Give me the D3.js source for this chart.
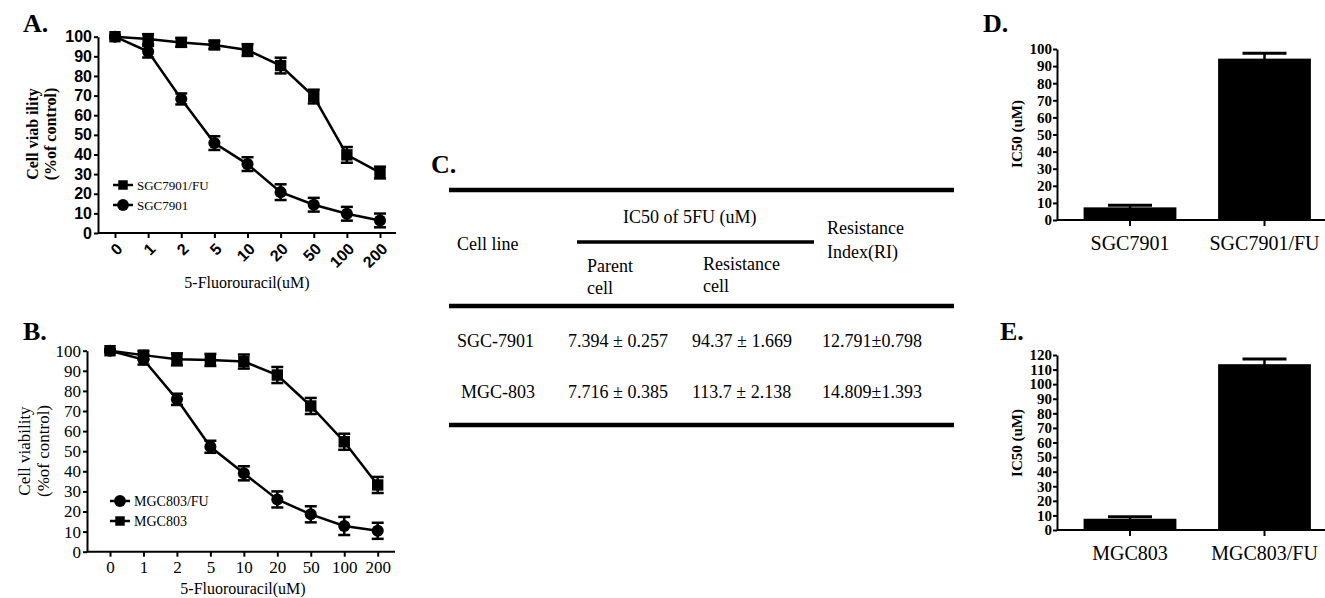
<!DOCTYPE html>
<html>
<head>
<meta charset="utf-8">
<script src="https://cdn.jsdelivr.net/npm/d3@7"></script>
<style>
  body { margin: 0; background: #fff; }
  svg { display: block; }
</style>
</head>
<body>
<div id="fig"></div>
<script>
// ---- data ----
var doses = ["0", "1", "2", "5", "10", "20", "50", "100", "200"];
var viabTicks = [0, 10, 20, 30, 40, 50, 60, 70, 80, 90, 100];

// panel A
var sgcFU    = [100, 98.8, 97.1, 95.8, 93.2, 85.3, 69.5, 39.8, 30.8];
var sgcFUErr = [0.6, 2.5, 2.2, 2.0, 3.0, 4.0, 3.5, 4.0, 3.0];
var sgc      = [100, 92.4, 68.3, 45.8, 35.1, 20.8, 14.4, 9.8, 6.4];
var sgcErr   = [0.6, 3.0, 2.8, 3.5, 3.5, 4.0, 3.5, 3.5, 3.5];

// panel B
var mgc      = [100, 97.8, 95.7, 95.4, 94.6, 87.9, 72.5, 54.7, 33.2];
var mgcErr   = [0.6, 2.0, 3.0, 3.0, 3.5, 4.0, 4.0, 4.0, 4.0];
var mgcFU    = [100, 95.6, 75.8, 52.2, 39.0, 26.0, 18.6, 12.8, 10.4];
var mgcFUErr = [0.6, 2.5, 2.8, 3.0, 3.5, 4.0, 4.0, 4.5, 4.0];

// panel C (table)
var cellLines   = ["SGC-7901", "MGC-803"];
var parentIC50  = ["7.394 \u00b1 0.257", "7.716 \u00b1 0.385"];
var resistIC50  = ["94.37 \u00b1 1.669", "113.7 \u00b1 2.138"];
var resistIndex = ["12.791\u00b10.798", "14.809\u00b11.393"];

// panels D and E
var catsD = ["SGC7901", "SGC7901/FU"];
var ic50D = [7.394, 94.37];
var errD  = [1.2, 3.2];
var ticksD = [0, 10, 20, 30, 40, 50, 60, 70, 80, 90, 100];

var catsE = ["MGC803", "MGC803/FU"];
var ic50E = [7.716, 113.7];
var errE  = [1.3, 3.5];
var ticksE = [0, 10, 20, 30, 40, 50, 60, 70, 80, 90, 100, 110, 120];

var serif = "'Liberation Serif', 'Times New Roman', serif";
var sans = "'Liberation Sans', Arial, sans-serif";

var svg = d3.select("#fig").append("svg")
  .attr("width", 1325)
  .attr("height", 598);

function panelLabel(txt, x, y) {
  svg.append("text")
    .attr("x", x).attr("y", y)
    .style("font-family", serif)
    .style("font-weight", "bold")
    .style("font-size", "26px")
    .text(txt);
}

// ---- line panels ----
function drawLinePanel(cfg) {
  var g = svg.append("g");

  var x = d3.scalePoint().domain(doses).range(cfg.xRange);
  var y = d3.scaleLinear().domain([0, 100]).range([cfg.y0, cfg.y100]);

  // y axis
  var yAxis = g.append("g")
    .attr("transform", "translate(" + cfg.axisX0 + ",0)")
    .call(d3.axisLeft(y).tickValues(viabTicks).tickSize(4).tickSizeOuter(0).tickPadding(2));
  yAxis.selectAll("path, line").attr("stroke", "#000").attr("stroke-width", 2);
  yAxis.selectAll("text")
    .style("font-family", cfg.tickFont)
    .style("font-weight", cfg.tickWeight)
    .style("font-size", cfg.tickSize)
    .attr("fill", "#000");

  // x axis
  var xAxis = g.append("g")
    .attr("transform", "translate(0," + cfg.y0 + ")")
    .call(d3.axisBottom(x).tickSize(5).tickSizeOuter(0));
  xAxis.select(".domain").remove();
  xAxis.selectAll("line").attr("stroke", "#000").attr("stroke-width", 2);
  xAxis.append("line")
    .attr("x1", cfg.axisX0).attr("x2", cfg.axisX1)
    .attr("stroke", "#000").attr("stroke-width", 2);
  var xt = xAxis.selectAll("text")
    .style("font-family", cfg.tickFont)
    .style("font-weight", cfg.tickWeight)
    .style("font-size", cfg.tickSize)
    .attr("fill", "#000");
  if (cfg.rotate) {
    xt.attr("y", 0).attr("dy", "0.35em")
      .attr("text-anchor", "end")
      .attr("transform", "translate(4,13) rotate(-45)");
  } else {
    xt.attr("y", 9);
  }

  // axis titles
  g.append("text")
    .attr("x", cfg.xTitleX).attr("y", cfg.xTitleY)
    .attr("text-anchor", "middle")
    .style("font-family", serif)
    .style("font-size", "16px")
    .text("5-Fluorouracil(uM)");

  cfg.yTitle.forEach(function(t, i) {
    g.append("text")
      .attr("transform", "translate(" + cfg.yTitleX[i] + "," + cfg.yTitleY + ") rotate(-90)")
      .attr("text-anchor", "middle")
      .attr("dy", "0.35em")
      .style("font-family", serif)
      .style("font-weight", cfg.yTitleWeight)
      .style("font-size", cfg.yTitleSize)
      .text(t);
  });

  var line = d3.line()
    .x(function(d, i) { return x(doses[i]); })
    .y(function(d) { return y(d); });

  cfg.series.forEach(function(s) {
    g.append("path")
      .datum(s.vals)
      .attr("d", line)
      .attr("fill", "none")
      .attr("stroke", "#000")
      .attr("stroke-width", 2.5);

    var pts = g.selectAll(null)
      .data(s.vals.map(function(v, i) { return { dose: doses[i], v: v, e: s.errs[i] }; }))
      .enter().append("g");

    pts.append("line")
      .attr("x1", function(d) { return x(d.dose); })
      .attr("x2", function(d) { return x(d.dose); })
      .attr("y1", function(d) { return y(d.v - d.e); })
      .attr("y2", function(d) { return y(d.v + d.e); })
      .attr("stroke", "#000").attr("stroke-width", 2.5);
    [-1, 1].forEach(function(sign) {
      pts.append("line")
        .attr("x1", function(d) { return x(d.dose) - 6; })
        .attr("x2", function(d) { return x(d.dose) + 6; })
        .attr("y1", function(d) { return y(d.v + sign * d.e); })
        .attr("y2", function(d) { return y(d.v + sign * d.e); })
        .attr("stroke", "#000").attr("stroke-width", 2.5);
    });

    pts.append("path")
      .attr("transform", function(d) { return "translate(" + x(d.dose) + "," + y(d.v) + ")"; })
      .attr("d", d3.symbol().type(s.symbol).size(s.symbol === d3.symbolSquare ? 130 : 115))
      .attr("fill", "#000");
  });

  // legend
  cfg.series.forEach(function(s, i) {
    var ly = cfg.legY + i * 20;
    g.append("line")
      .attr("x1", cfg.legX).attr("x2", cfg.legX + 20)
      .attr("y1", ly).attr("y2", ly)
      .attr("stroke", "#000").attr("stroke-width", 2.5);
    g.append("path")
      .attr("transform", "translate(" + (cfg.legX + 10) + "," + ly + ")")
      .attr("d", d3.symbol().type(s.symbol).size(s.symbol === d3.symbolSquare ? 90 : 110))
      .attr("fill", "#000");
    g.append("text")
      .attr("x", cfg.legX + 24).attr("y", ly)
      .attr("dy", "0.35em")
      .style("font-family", serif)
      .style("font-size", cfg.legSize)
      .text(s.name);
  });
}

panelLabel("A.", 23, 32);
drawLinePanel({
  xRange: [115, 380], axisX0: 98, axisX1: 396,
  y0: 233, y100: 36.7,
  tickFont: sans, tickWeight: "bold", tickSize: "16px", rotate: true,
  xTitleX: 247, xTitleY: 288,
  yTitle: ["Cell viab ility", "(%of control)"], yTitleX: [32, 50], yTitleY: 134,
  yTitleWeight: "bold", yTitleSize: "16px",
  legX: 113, legY: 185, legSize: "13px",
  series: [
    { name: "SGC7901/FU", vals: sgcFU, errs: sgcFUErr, symbol: d3.symbolSquare },
    { name: "SGC7901", vals: sgc, errs: sgcErr, symbol: d3.symbolCircle }
  ]
});

panelLabel("B.", 23, 340);
drawLinePanel({
  xRange: [110, 377.7], axisX0: 87, axisX1: 395,
  y0: 551.7, y100: 350.7,
  tickFont: serif, tickWeight: "normal", tickSize: "17px", rotate: false,
  xTitleX: 243, xTitleY: 594,
  yTitle: ["Cell viability", "(%of control)"], yTitleX: [24, 43], yTitleY: 451,
  yTitleWeight: "normal", yTitleSize: "17px",
  legX: 110, legY: 501, legSize: "14px",
  series: [
    { name: "MGC803/FU", vals: mgcFU, errs: mgcFUErr, symbol: d3.symbolCircle },
    { name: "MGC803", vals: mgc, errs: mgcErr, symbol: d3.symbolSquare }
  ]
});

// ---- table C ----
panelLabel("C.", 431, 173);
var tg = svg.append("g")
  .style("font-family", serif)
  .style("font-size", "18px");

function rule(x1, x2, y, w) {
  tg.append("line").attr("x1", x1).attr("x2", x2).attr("y1", y).attr("y2", y)
    .attr("stroke", "#000").attr("stroke-width", w);
}
function txt(s, x, y) {
  tg.append("text").attr("x", x).attr("y", y).text(s);
}
rule(449, 954, 190, 4.5);
rule(577, 814, 242, 3.5);
rule(449, 954, 306, 4.5);
rule(449, 954, 425, 4.5);

txt("Cell line", 457, 250);
txt("IC50 of 5FU (uM)", 623, 223);
txt("Parent", 587, 272);
txt("cell", 587, 294);
txt("Resistance", 703, 270);
txt("cell", 703, 292);
txt("Resistance", 827, 234);
txt("Index(RI)", 827, 258);

var rowY = [347, 398];
var rowX = [457, 461];
cellLines.forEach(function(c, i) {
  txt(c, rowX[i], rowY[i]);
  txt(parentIC50[i], 568, rowY[i]);
  txt(resistIC50[i], 692, rowY[i]);
  txt(resistIndex[i], 822, rowY[i]);
});

// ---- bar panels ----
function drawBarPanel(cfg) {
  var g = svg.append("g");
  var x = d3.scaleBand().domain(cfg.cats).range([1062.75, 1331.75])
    .paddingInner(0.31).paddingOuter(0.155);
  var y = d3.scaleLinear().domain([0, cfg.max]).range([cfg.y0, cfg.yTop]);

  g.selectAll(null).data(cfg.vals).enter().append("rect")
    .attr("x", function(d, i) { return x(cfg.cats[i]); })
    .attr("width", x.bandwidth())
    .attr("y", function(d) { return y(d); })
    .attr("height", function(d) { return cfg.y0 - y(d); })
    .attr("fill", "#000");

  g.selectAll(null).data(cfg.vals).enter().append("line")
    .attr("x1", function(d, i) { return x(cfg.cats[i]) + x.bandwidth() / 2; })
    .attr("x2", function(d, i) { return x(cfg.cats[i]) + x.bandwidth() / 2; })
    .attr("y1", function(d, i) { return y(d - cfg.errs[i]); })
    .attr("y2", function(d, i) { return y(d + cfg.errs[i]); })
    .attr("stroke", "#000").attr("stroke-width", 2.5);
  g.selectAll(null).data(cfg.vals).enter().append("line")
    .attr("x1", function(d, i) { return x(cfg.cats[i]) + x.bandwidth() / 2 - 22; })
    .attr("x2", function(d, i) { return x(cfg.cats[i]) + x.bandwidth() / 2 + 22; })
    .attr("y1", function(d, i) { return y(d + cfg.errs[i]); })
    .attr("y2", function(d, i) { return y(d + cfg.errs[i]); })
    .attr("stroke", "#000").attr("stroke-width", 3);

  var yAxis = g.append("g")
    .attr("transform", "translate(1057,0)")
    .call(d3.axisLeft(y).tickValues(cfg.ticks).tickSize(4).tickSizeOuter(0).tickPadding(1));
  yAxis.selectAll("path, line").attr("stroke", "#000").attr("stroke-width", 2);
  yAxis.selectAll("text")
    .style("font-family", serif)
    .style("font-weight", "bold")
    .style("font-size", "15px")
    .attr("fill", "#000");

  var xAxis = g.append("g")
    .attr("transform", "translate(0," + cfg.y0 + ")")
    .call(d3.axisBottom(x).tickSize(6).tickSizeOuter(0).tickPadding(10));
  xAxis.select(".domain").remove();
  xAxis.append("line").attr("x1", 1057).attr("x2", 1325)
    .attr("stroke", "#000").attr("stroke-width", 2);
  xAxis.selectAll("line").attr("stroke", "#000").attr("stroke-width", 2);
  xAxis.selectAll("text")
    .style("font-family", serif)
    .style("font-size", "20px")
    .attr("fill", "#000");

  g.append("text")
    .attr("transform", "translate(1017," + cfg.titleY + ") rotate(-90)")
    .attr("text-anchor", "middle")
    .attr("dy", "0.35em")
    .style("font-family", serif)
    .style("font-weight", "bold")
    .style("font-size", "15px")
    .text("IC50 (uM)");
}

panelLabel("D.", 983, 32);
drawBarPanel({ cats: catsD, vals: ic50D, errs: errD, ticks: ticksD, max: 100,
  y0: 220, yTop: 49, titleY: 134 });

panelLabel("E.", 1000, 340);
drawBarPanel({ cats: catsE, vals: ic50E, errs: errE, ticks: ticksE, max: 120,
  y0: 530, yTop: 355, titleY: 443 });
</script>
</body>
</html>
